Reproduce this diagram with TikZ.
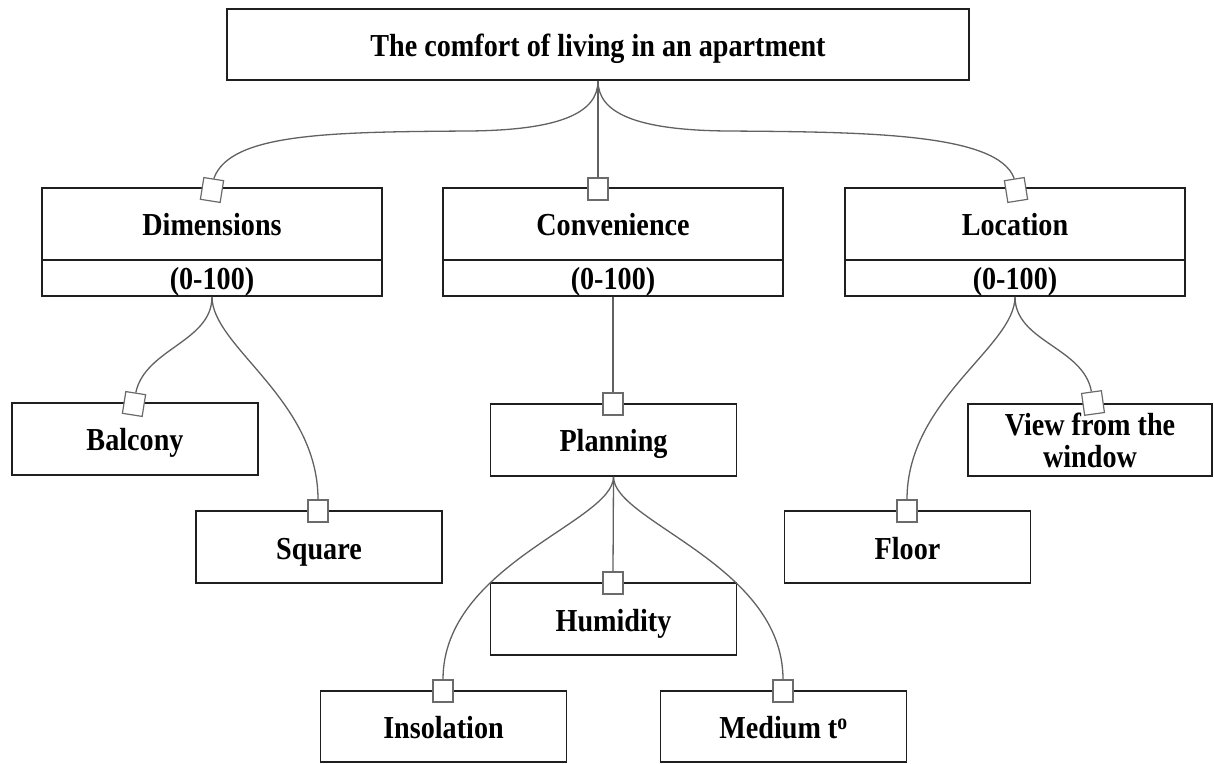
\documentclass[tikz,border=0pt]{standalone}
\usepackage{fontspec}
\setmainfont{Liberation Serif}[FakeStretch=0.88]
\begin{document}
\begin{tikzpicture}[x=1pt,y=1pt,
  box/.style={draw=black!88, line width=1.6pt, rectangle, inner sep=0pt, align=center,
    font=\bfseries\fontsize{32}{32}\selectfont},
  one/.style={text height=30pt, text depth=6pt},
  conn/.style={draw=black!62, line width=1.3pt},
  mk/.style={draw=black!58, fill=white, line width=1.2pt, minimum width=20pt,
    minimum height=22pt, inner sep=0pt},
  wide/.style={minimum width=340pt},
  leaf/.style={minimum width=246pt, minimum height=72pt}]
\useasboundingbox (0,0) rectangle (1214,763);
% top
\node[box, one, minimum width=742pt, minimum height=71pt] (top) at (598,718.5) {The comfort of living in an apartment};
% second level
\node[box, one, wide, minimum height=72pt] (dim) at (212,539) {Dimensions};
\node[box, one, wide, minimum height=36pt] (dimv) at (212,485) {(0-100)};
\node[box, one, wide, minimum height=72pt] (conv) at (613,539) {Convenience};
\node[box, one, wide, minimum height=36pt] (convv) at (613,485) {(0-100)};
\node[box, one, wide, minimum height=72pt] (loc) at (1015,539) {Location};
\node[box, one, wide, minimum height=36pt] (locv) at (1015,485) {(0-100)};
% leaves
\node[box, one, leaf] (bal) at (135,324) {Balcony};
\node[box, one, leaf] (sq) at (319,216) {Square};
\node[box, one, leaf] (plan) at (613.5,323) {Planning};
\node[box, one, leaf] (hum) at (613.5,144) {Humidity};
\node[box, one, leaf, minimum height=71pt] (ins) at (443.5,36.5) {Insolation};
\node[box, one, leaf, minimum height=71pt] (med) at (783.5,36.5) {Medium t\textsuperscript{o}};
\node[box, one, leaf] (floor) at (907.5,216) {Floor};
\node[box, leaf, minimum width=244pt] (view) at (1090,323) {View from the\\window};
% markers
\node[mk, rotate=-9] (mDim) at (212,573) {};
\node[mk] (mConv) at (598,574) {};
\node[mk, rotate=9] (mLoc) at (1016,573) {};
\node[mk, rotate=-9] (mBal) at (134,359) {};
\node[mk] (mSq) at (318,252) {};
\node[mk] (mPlan) at (613,359) {};
\node[mk] (mHum) at (613,180) {};
\node[mk] (mIns) at (443,72) {};
\node[mk] (mMed) at (783,72) {};
\node[mk] (mFloor) at (907,252) {};
\node[mk, rotate=8] (mView) at (1093,360) {};
% connectors
\coordinate (bendL) at (470,632);
\coordinate (bendR) at (726,632);
\draw[conn] (top.south) .. controls (598,650) and (560,633) .. (bendL)
  .. controls (330,631) and (230,630) .. (mDim.north);
\draw[conn] (top.south) -- (mConv.north);
\draw[conn] (top.south) .. controls (598,650) and (636,633) .. (bendR)
  .. controls (866,631) and (998,630) .. (mLoc.north);
\draw[conn] (dimv.south) to[out=270, in=78, out distance=45pt, in distance=45pt] (mBal.north);
\draw[conn] (dimv.south) to[out=270, in=90, out distance=50pt, in distance=100pt] (mSq.north);
\draw[conn] (convv.south) -- (mPlan.north);
\draw[conn] (plan.south) to[out=270, in=90, out distance=45pt, in distance=115pt] (mIns.north);
\draw[conn] (plan.south) -- (mHum.north);
\draw[conn] (plan.south) to[out=270, in=90, out distance=45pt, in distance=115pt] (mMed.north);
\draw[conn] (locv.south) to[out=270, in=90, out distance=50pt, in distance=100pt] (mFloor.north);
\draw[conn] (locv.south) to[out=270, in=100, out distance=45pt, in distance=45pt] (mView.north);
\end{tikzpicture}
\end{document}
